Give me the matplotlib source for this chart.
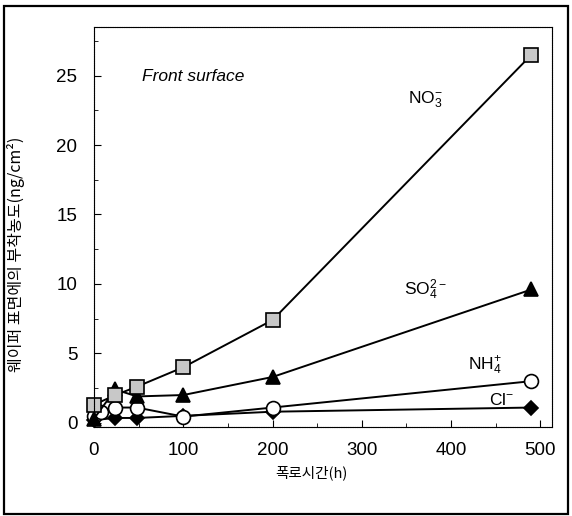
import matplotlib
matplotlib.use("Agg")
import matplotlib.pyplot as plt
from matplotlib.patches import Rectangle
from matplotlib.ticker import MultipleLocator

# exposure time (h)
t_no3 = [0, 24, 48, 100, 200, 490]
no3 = [1.3, 2.0, 2.6, 4.0, 7.4, 26.5]

t_so4 = [0, 24, 48, 100, 200, 490]
so4 = [0.3, 2.4, 1.9, 2.0, 3.3, 9.6]

t_nh4 = [0, 8, 24, 48, 100, 200, 490]
nh4 = [0.5, 0.8, 1.1, 1.1, 0.45, 1.1, 3.0]

t_cl = [0, 24, 48, 100, 200, 490]
cl = [0.2, 0.35, 0.35, 0.5, 0.8, 1.1]

ion_labels = [r'NO$_3^{-}$', r'SO$_4^{2-}$', r'NH$_4^{+}$', r'Cl$^{-}$']

plt.rcParams['font.family'] = ['Liberation Sans', 'Noto Sans CJK KR', 'DejaVu Sans']
plt.rcParams['mathtext.fontset'] = 'custom'
plt.rcParams['mathtext.rm'] = 'Liberation Sans'
plt.rcParams['mathtext.it'] = 'Liberation Sans:italic'

fig = plt.figure(figsize=(5.72, 5.16), dpi=100)
ax = fig.add_axes([0.1643, 0.1725, 0.8007, 0.7752])

# outer frame
fig.patches.append(Rectangle((4 / 572, 2 / 516), 564 / 572, 508 / 516,
                             transform=fig.transFigure, fill=False,
                             edgecolor='black', linewidth=1.6))

line_kw = dict(color='black', linewidth=1.4, clip_on=False, markeredgewidth=1.2)
ax.plot(t_cl, cl, marker='D', markerfacecolor='black', markersize=7, **line_kw)
ax.plot(t_nh4, nh4, marker='o', markerfacecolor='white', markersize=10, **line_kw)
ax.plot(t_so4, so4, marker='^', markerfacecolor='black', markersize=10, **line_kw)
ax.plot(t_no3, no3, marker='s', markerfacecolor='#c8c8c8', markersize=9.5, **line_kw)

ax.set_xlim(0, 513)
ax.set_ylim(-0.3, 28.5)
ax.xaxis.set_major_locator(MultipleLocator(100))
ax.xaxis.set_minor_locator(MultipleLocator(50))
ax.yaxis.set_major_locator(MultipleLocator(5))
ax.yaxis.set_minor_locator(MultipleLocator(2.5))
ax.tick_params(which='both', direction='in', labelsize=13.5)
ax.tick_params(axis='y', which='major', length=5, pad=12)
ax.tick_params(axis='x', which='major', length=5, pad=11)
ax.tick_params(which='minor', length=3)
for s in ax.spines.values():
    s.set_linewidth(0.8)
    s.set_linestyle((0, (1, 0.6)))

ax.text(0.105, 0.865, 'Front surface', transform=ax.transAxes,
        fontsize=12.5, style='italic')
ax.text(352, 23.0, ion_labels[0], fontsize=12.5)
ax.text(347, 9.2, ion_labels[1], fontsize=12.5)
ax.text(419, 3.8, ion_labels[2], fontsize=12.5)
ax.text(442, 1.3, ion_labels[3], fontsize=12.5)

ax.set_xlabel('폭로시간(h)', fontsize=10.5,
              family=['Noto Sans CJK KR', 'DejaVu Sans'])
ax.set_ylabel('웨이퍼 표면에의 부착농도(ng/cm²)', fontsize=11.5,
              family=['Noto Sans CJK KR', 'DejaVu Sans'])
ax.xaxis.set_label_coords(0.474, -0.095)
ax.yaxis.set_label_coords(-0.15, 0.4325)

fig.savefig('out.png', dpi=100)
